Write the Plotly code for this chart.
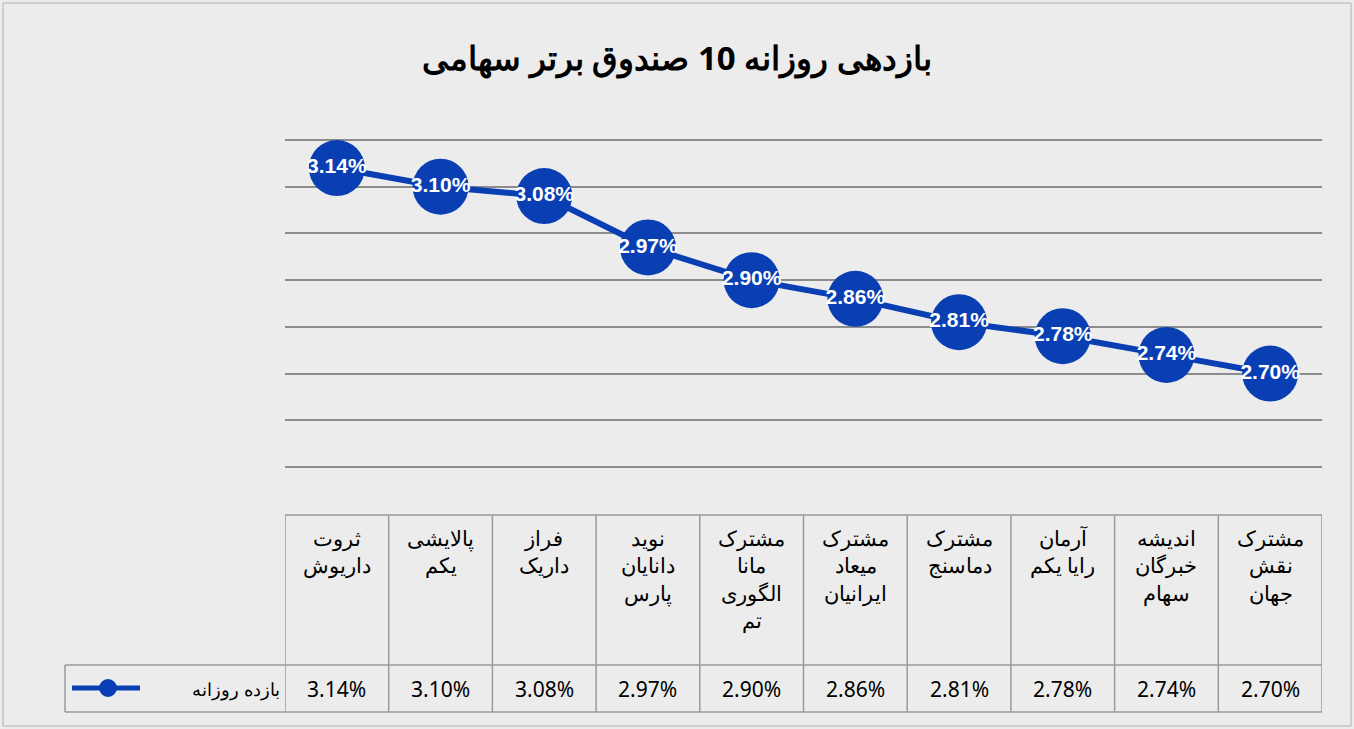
import plotly.graph_objects as go

categories = ["ثروت<br>داریوش", "پالایشی<br>یکم", "فراز<br>داریک", "نوید<br>دانایان<br>پارس",
              "مشترک<br>مانا<br>الگوری<br>تم", "مشترک<br>میعاد<br>ایرانیان", "مشترک<br>دماسنج",
              "آرمان<br>رایا یکم", "اندیشه<br>خبرگان<br>سهام", "مشترک<br>نقش<br>جهان"]
values = [3.14, 3.10, 3.08, 2.97, 2.90, 2.86, 2.81, 2.78, 2.74, 2.70]
series_name = "بازده روزانه"
title = "بازدهی روزانه 10 صندوق برتر سهامی"

W, H = 1354, 729
BLUE = "#0a3fb4"
def px(x): return x / W
def py(y): return 1 - y / H

xs = list(range(len(values)))
labels = [f"{v:.2f}%" for v in values]

fig = go.Figure(go.Scatter(
    x=xs, y=values, mode="lines+markers+text", text=labels, textposition="middle center",
    textfont=dict(color="white", size=21, family="Liberation Sans", weight="bold"),
    line=dict(color=BLUE, width=6), marker=dict(size=56, color=BLUE), cliponaxis=False,
    showlegend=False))

x0, x1 = px(285), px(1322)
step = (467 - 140) / 7
fig.update_layout(
    width=W, height=H, margin=dict(l=0, r=0, t=0, b=0),
    paper_bgcolor="#ececec", plot_bgcolor="rgba(0,0,0,0)",
    font=dict(family="Noto Sans", color="black"),
    xaxis=dict(domain=[x0, x1], range=[-0.5, len(values) - 0.5], visible=False),
    yaxis=dict(domain=[py(467 + step / 2), py(140 - step / 2)], range=[2.45, 3.25], tick0=2.5, dtick=0.1,
               showticklabels=False, gridcolor="#8c8c8c", gridwidth=2, zeroline=False, showline=False),
    title=dict(text=f"<b>{title}</b>", x=0.5, xanchor="center", y=py(58), yanchor="middle",
               font=dict(size=33, family="Noto Sans", color="black")),
)

shapes = []
ln = dict(color="#9a9a9a", width=1.5)
shapes.append(dict(type="rect", xref="paper", yref="paper", x0=px(3), x1=px(1351), y0=py(726), y1=py(3), line=dict(color="#b0b0b0", width=1)))
shapes.append(dict(type="line", xref="paper", yref="paper", x0=x0, x1=x1, y0=py(515), y1=py(515), line=ln))
for yy in (665, 712):
    shapes.append(dict(type="line", xref="paper", yref="paper", x0=px(65), x1=x1, y0=py(yy), y1=py(yy), line=ln))
shapes.append(dict(type="line", xref="paper", yref="paper", x0=px(65), x1=px(65), y0=py(665), y1=py(712), line=ln))
for i in range(len(values) + 1):
    shapes.append(dict(type="line", xref="x", yref="paper", x0=i - 0.5, x1=i - 0.5, y0=py(515), y1=py(712), line=ln))
shapes.append(dict(type="line", xref="paper", yref="paper", x0=px(72), x1=px(140), y0=py(688), y1=py(688), line=dict(color=BLUE, width=5)))
shapes.append(dict(type="circle", xref="paper", yref="paper", x0=px(100), x1=px(116), y0=py(696), y1=py(680), fillcolor=BLUE, line=dict(color=BLUE)))
fig.update_layout(shapes=shapes)

anns = []
for i, (c, v) in enumerate(zip(categories, values)):
    anns.append(dict(x=i, y=py(522), xref="x", yref="paper", text=c, showarrow=False, yanchor="top",
                     font=dict(size=21, family="Noto Sans"), align="center"))
    anns.append(dict(x=i, y=py(689), xref="x", yref="paper", text=f"{v:.2f}%", showarrow=False, yanchor="middle",
                     font=dict(size=21, family="Noto Sans")))
anns.append(dict(x=px(282), y=py(689), xref="paper", yref="paper", text=series_name, showarrow=False,
                 xanchor="right", yanchor="middle", font=dict(size=18, family="Noto Sans")))
fig.update_layout(annotations=anns)

fig.write_html("out.html", config={"displayModeBar": False}, post_script="document.body.style.margin='0';")
